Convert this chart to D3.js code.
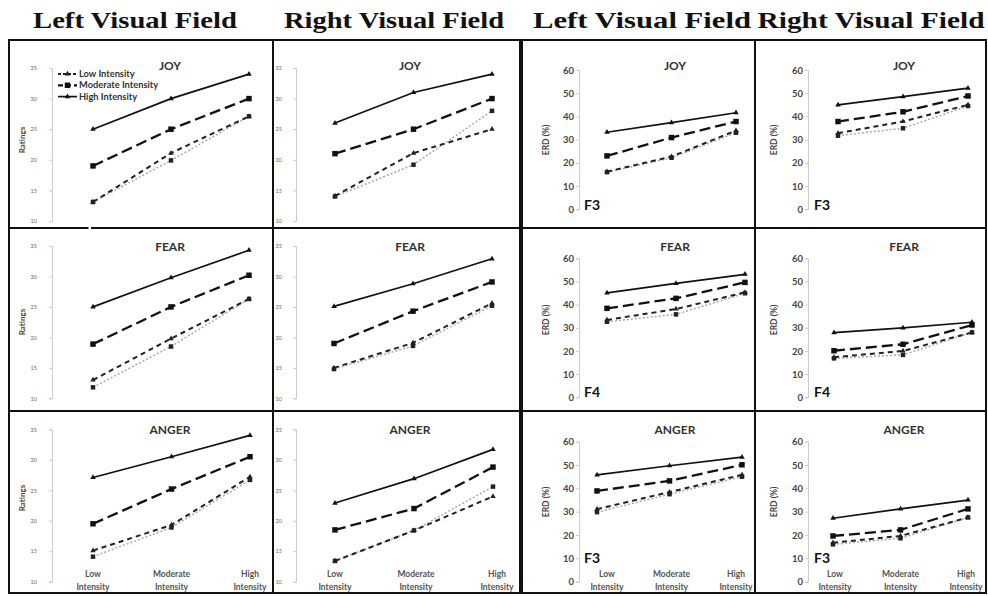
<!DOCTYPE html>
<html><head><meta charset="utf-8">
<script src="https://cdn.jsdelivr.net/npm/d3@7"></script>
<style>html,body{margin:0;padding:0;background:#fff;}svg{display:block;}</style>
</head><body><svg id="c" width="988" height="596"></svg>
<script>
// ---------- data ----------
const categories = ["Low Intensity", "Moderate Intensity", "High Intensity"];
const emotions = ["JOY", "FEAR", "ANGER"];
const fieldTitles = ["Left Visual Field", "Right Visual Field", "Left Visual Field", "Right Visual Field"];
const legendNames = ["Low Intensity", "Moderate Intensity", "High Intensity"];
const ratingTicks = [10, 15, 20, 25, 30, 35];
const erdTicks = [0, 10, 20, 30, 40, 50, 60];
const electrodesLVF = ["F3", "F4", "F3"];
const electrodesRVF = ["F3", "F4", "F3"];

// Ratings, left visual field (rows: JOY, FEAR, ANGER)
const ratingsLVF_high = [[25, 30, 34], [25, 29.8, 34.3], [27.1, 30.5, 34]];
const ratingsLVF_moderate = [[19, 25, 30], [18.9, 25, 30.2], [19.5, 25.2, 30.5]];
const ratingsLVF_low = [[13.1, 21.1, 27.1], [13, 19.8, 26.3], [15.1, 19.3, 27.2]];
const ratingsLVF_gray = [[13.1, 19.9, 27.1], [11.8, 18.5, 26.3], [14.1, 18.9, 26.7]];
// Ratings, right visual field
const ratingsRVF_high = [[26, 31, 34], [25.1, 28.8, 32.9], [22.9, 26.9, 31.7]];
const ratingsRVF_moderate = [[21, 25, 30], [19, 24.3, 29.1], [18.5, 22, 28.8]];
const ratingsRVF_low = [[14.1, 21.1, 25], [15, 19.1, 25.6], [13.4, 18.4, 24]];
const ratingsRVF_gray = [[14, 19.2, 28], [14.8, 18.6, 25.2], [13.4, 18.4, 25.6]];
// ERD (%), left visual field
const erdLVF_high = [[33.2, 37.3, 41.6], [45.1, 49.2, 53.1], [45.8, 49.7, 53.4]];
const erdLVF_moderate = [[23, 30.9, 37.8], [38.4, 42.7, 49.6], [38.9, 43.2, 50.1]];
const erdLVF_low = [[16.2, 22.7, 33.9], [33.4, 38.1, 45.3], [31.1, 38.4, 45.8]];
const erdLVF_gray = [[16, 22.2, 33], [32.6, 35.8, 44.9], [29.8, 37.5, 45]];
// ERD (%), right visual field
const erdRVF_high = [[45, 48.5, 52.2], [27.9, 30, 32.4], [27.2, 31.2, 35]];
const erdRVF_moderate = [[37.8, 42, 48.8], [20.1, 22.9, 31.2], [19.6, 22.2, 31.2]];
const erdRVF_low = [[32.8, 37.8, 45], [17.3, 20, 28], [16.7, 19.6, 27.5]];
const erdRVF_gray = [[31.7, 34.9, 44.5], [16.8, 18.3, 28], [16, 18.6, 27.5]];

// ---------- layout ----------
const svg = d3.select("#c");
const FONT = "Lato, 'Open Sans', sans-serif";

const cols = [
  {x0: 9, x1: 273, axisX: 52, tickGap: 15, titleX: 170, kind: "ratings", ylab: "Ratings", ylabX: 25, labRange: [93, 250],
   data: [ratingsLVF_gray, ratingsLVF_low, ratingsLVF_moderate, ratingsLVF_high]},
  {x0: 273, x1: 520, axisX: 296, tickGap: 14, titleX: 410, kind: "ratings", ylab: null, labRange: [335, 497],
   data: [ratingsRVF_gray, ratingsRVF_low, ratingsRVF_moderate, ratingsRVF_high]},
  {x0: 522, x1: 755, axisX: 579, tickGap: 4, titleX: 675, kind: "erd", ylab: "ERD (%)", ylabX: 549, elec: electrodesLVF, elecX: 584, labRange: [607, 736],
   data: [erdLVF_gray, erdLVF_low, erdLVF_moderate, erdLVF_high]},
  {x0: 755, x1: 986, axisX: 808, tickGap: 4, titleX: 904, kind: "erd", ylab: "ERD (%)", ylabX: 777, elec: electrodesRVF, elecX: 814, labRange: [835, 966],
   data: [erdRVF_gray, erdRVF_low, erdRVF_moderate, erdRVF_high]}
];
const rows = [
  {y0: 40, y1: 228, titleY: 70, rTop: 68, rBot: 221, eTop: 70, eBot: 209.3, ylabY: 140, ylabYe: 140, elecY: 210},
  {y0: 228, y1: 411, titleY: 251, rTop: 246, rBot: 398.3, eTop: 258.3, eBot: 397.3, ylabY: 322, ylabYe: 320, elecY: 397},
  {y0: 411, y1: 593, titleY: 434, rTop: 429.3, rBot: 581.7, eTop: 441.7, eBot: 581.7, ylabY: 498, ylabYe: 502, elecY: 563}
];
// point x-ranges per panel [row][col] = [lowX, highX]
const ptRange = [
  [[93, 249], [335, 492], [607, 736], [838, 968]],
  [[93, 249], [334, 492], [607, 745], [834, 972]],
  [[93, 250], [335, 493], [597, 742], [833, 968]]
];

const styles = [
  {stroke: "#aaa", width: 1.5, dash: "2,2", sym: d3.symbolSquare, size: 20, fill: "#222"},   // gray dotted
  {stroke: "#222", width: 2, dash: "5,4", sym: d3.symbolTriangle, size: 13, fill: "#222"},   // low
  {stroke: "#111", width: 2.3, dash: "11,5", sym: d3.symbolSquare, size: 30, fill: "#111"},  // moderate
  {stroke: "#111", width: 1.7, dash: null, sym: d3.symbolTriangle, size: 13, fill: "#111"}   // high
];

// column titles
const titleCenters = [135, 394, 642, 871];
const titleWidths = [204, 220, 218, 227];
fieldTitles.forEach((t, i) => {
  svg.append("text").attr("x", titleCenters[i] - titleWidths[i] / 2).attr("y", 28)
    .attr("textLength", titleWidths[i]).attr("lengthAdjust", "spacingAndGlyphs")
    .attr("font-family", "'Liberation Serif', 'Times New Roman', serif").attr("font-weight", "bold")
    .attr("font-size", 23).attr("fill", "#111").text(t);
});

rows.forEach((row, ri) => {
  cols.forEach((col, ci) => {
    const g = svg.append("g");
    const isR = col.kind === "ratings";
    const y = d3.scaleLinear().domain(isR ? [10, 35] : [0, 60]).range(isR ? [row.rBot, row.rTop] : [row.eBot, row.eTop]);
    const x = d3.scalePoint().domain(categories).range(ptRange[ri][ci]);

    // y axis
    const ax = d3.axisLeft(y).tickValues(isR ? ratingTicks : erdTicks).tickSize(3).tickPadding(isR ? col.tickGap - 3 : 2);
    const axg = g.append("g").attr("transform", `translate(${col.axisX},0)`).call(ax);
    axg.select(".domain").attr("stroke", "#ccc").attr("stroke-width", 1);
    axg.selectAll(".tick line").attr("stroke", "#ccc");
    axg.selectAll(".tick text").attr("font-family", FONT).attr("font-size", isR ? 5.5 : 9.5)
      .attr("fill", isR ? "#666" : "#444").attr("font-weight", isR ? "normal" : "bold");

    // y label
    if (col.ylab) {
      const ly = isR ? row.ylabY : row.ylabYe;
      g.append("text").attr("transform", `translate(${col.ylabX},${ly}) rotate(-90)`).attr("text-anchor", "middle")
        .attr("font-family", FONT).attr("font-weight", "bold").attr("font-size", isR ? 8 : 8.5).attr("fill", "#444").text(col.ylab);
    }

    // panel title
    g.append("text").attr("x", col.titleX).attr("y", row.titleY).attr("text-anchor", "middle")
      .attr("font-family", FONT).attr("font-weight", "bold").attr("font-size", 12).attr("fill", "#333").text(emotions[ri]);

    // electrode label
    if (col.elec) {
      g.append("text").attr("x", col.elecX).attr("y", row.elecY)
        .attr("font-family", FONT).attr("font-weight", "bold").attr("font-size", 14).attr("fill", "#111").text(col.elec[ri]);
    }

    // lines
    const line = d3.line().x((d, i) => x(categories[i])).y(d => y(d));
    col.data.forEach((arr, si) => {
      const st = styles[si];
      const vals = arr[ri];
      g.append("path").attr("d", line(vals)).attr("fill", "none").attr("stroke", st.stroke)
        .attr("stroke-width", st.width).attr("stroke-dasharray", st.dash);
      g.selectAll(null).data(vals).enter().append("path")
        .attr("transform", (d, i) => `translate(${x(categories[i])},${y(d)})`)
        .attr("d", d3.symbol().type(st.sym).size(st.size)).attr("fill", st.fill);
    });

    // x labels on bottom row
    if (ri === 2) {
      const xl = d3.scalePoint().domain(categories).range(col.labRange);
      categories.forEach(c => {
        const parts = c.split(" ");
        const t = g.append("text").attr("x", xl(c)).attr("y", 577).attr("text-anchor", "middle")
          .attr("font-family", FONT).attr("font-weight", "bold").attr("font-size", 8.5).attr("fill", "#555");
        t.append("tspan").attr("x", xl(c)).attr("dy", 0).text(parts[0]);
        t.append("tspan").attr("x", xl(c)).attr("dy", 13).text(parts[1]);
      });
    }

    // legend in first panel
    if (ri === 0 && ci === 0) {
      const lg = g.append("g");
      [1, 2, 3].forEach((si, k) => {
        const st = styles[si];
        const ly = 74 + k * 11.3;
        lg.append("line").attr("x1", 58).attr("x2", 77).attr("y1", ly).attr("y2", ly)
          .attr("stroke", st.stroke).attr("stroke-width", st.width).attr("stroke-dasharray", si === 1 ? "3,2" : (si === 2 ? "5,3" : null));
        lg.append("path").attr("transform", `translate(67.5,${ly})`).attr("d", d3.symbol().type(st.sym).size(st.size)).attr("fill", st.fill);
        lg.append("text").attr("x", 79).attr("y", ly + 3).attr("font-family", FONT).attr("font-size", 9.3)
          .attr("font-weight", "bold").attr("fill", "#333").text(legendNames[si - 1]);
      });
    }

    // panel border
    svg.append("rect").attr("x", col.x0).attr("y", row.y0).attr("width", col.x1 - col.x0).attr("height", row.y1 - row.y0)
      .attr("fill", "none").attr("stroke", "#111").attr("stroke-width", 2);
  });
});
// small gap artifact on divider
svg.append("rect").attr("x", 88.5).attr("y", 226).attr("width", 2.5).attr("height", 4).attr("fill", "#fff");
</script></body></html>
